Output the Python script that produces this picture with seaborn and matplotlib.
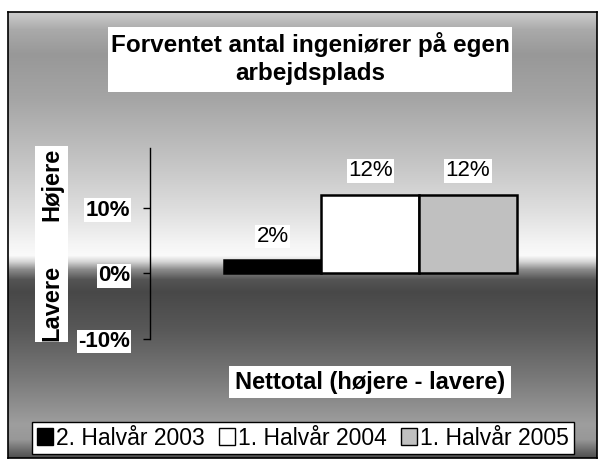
import numpy as np
import pandas as pd
import matplotlib.pyplot as plt
from matplotlib.patches import Rectangle, Patch
import seaborn as sns

# data
periods = ['2. Halvår 2003', '1. Halvår 2004', '1. Halvår 2005']
values = [2, 12, 12]
value_labels = ['2%', '12%', '12%']
category = 'Nettotal (højere - lavere)'
bar_colors = ['#000000', '#ffffff', '#c0c0c0']
yticks = [-10, 0, 10]
yticklabels = ['-10%', '0%', '10%']

sns.set_theme(style='white')
plt.rcParams['font.family'] = ['Liberation Sans', 'DejaVu Sans']
plt.rcParams['text.color'] = 'black'
plt.rcParams['ytick.color'] = 'black'
plt.rcParams['ytick.labelcolor'] = 'black'

W, H = 605, 465
fig = plt.figure(figsize=(W / 100, H / 100), dpi=100)
fig.patch.set_facecolor('white')


def fx(px):
    return px / W


def fy(py):
    return 1 - py / H


def white_box(x0, y0, x1, y1):
    fig.patches.append(Rectangle((fx(x0), fy(y1)), fx(x1) - fx(x0), fy(y0) - fy(y1),
                                 transform=fig.transFigure, facecolor='white',
                                 edgecolor='none', zorder=2))


# grey gradient background inside black frame
bg = fig.add_axes([fx(8), fy(458), fx(597) - fx(8), fy(12) - fy(458)], zorder=-5)
stop_y = [12, 18, 30, 55, 100, 160, 210, 245, 256, 262, 270, 280, 292, 330, 380, 425, 440, 450, 458]
stop_v = [205, 195, 170, 152, 165, 195, 222, 245, 250, 215, 140, 85, 72, 88, 122, 158, 152, 110, 80]
g = np.interp(np.arange(12, 459), stop_y, stop_v) / 255
bg.imshow(np.repeat(g[:, None, None], 3, axis=2), aspect='auto', extent=[0, 1, 0, 1],
          interpolation='bilinear')
bg.set_xticks([])
bg.set_yticks([])
for s in bg.spines.values():
    s.set_visible(True)
    s.set_color('black')
    s.set_linewidth(1.2)

# plot area
ax = fig.add_axes([fx(149.5), fy(339), fx(591) - fx(149.5), fy(148) - fy(339)])
ax.patch.set_alpha(0)
df = pd.DataFrame({'cat': [category] * 3, 'period': periods, 'value': values})
sns.barplot(data=df, x='cat', y='value', hue='period', palette=bar_colors, saturation=1,
            width=0.664, gap=0, edgecolor='black', linewidth=1.8, legend=False, ax=ax)

ax.set_xlim(-0.5, 0.5)
ax.set_ylim(-10, 19.1)
ax.set_xticks([])
ax.set_xlabel('')
ax.set_ylabel('')
ax.set_yticks(yticks)
ax.set_yticklabels(yticklabels, fontsize=16, fontweight='bold', color='black')
ax.tick_params(axis='y', left=True, length=5, width=1, color='black', pad=9)
for lbl in ax.get_yticklabels():
    lbl.set_bbox(dict(facecolor='white', edgecolor='none', pad=1))
for side in ['top', 'right', 'bottom']:
    ax.spines[side].set_visible(False)
ax.spines['left'].set_color('black')
ax.spines['left'].set_linewidth(1)

# value labels above bars
for bar, lab in zip(ax.patches, value_labels):
    ax.annotate(lab, (bar.get_x() + bar.get_width() / 2, bar.get_height()),
                xytext=(0, 17), textcoords='offset points', ha='center', va='center',
                fontsize=16, color='black',
                bbox=dict(facecolor='white', edgecolor='none', pad=1))

# title
white_box(108, 27, 512, 92)
fig.text(fx(310), fy(52), 'Forventet antal ingeniører på egen', ha='center', va='baseline',
         fontsize=17.5, fontweight='bold', zorder=3)
fig.text(fx(310), fy(80), 'arbejdsplads', ha='center', va='baseline',
         fontsize=17.5, fontweight='bold', zorder=3)

# x label
white_box(229, 366, 511, 398)
fig.text(fx(370), fy(389), category, ha='center', va='baseline',
         fontsize=17, fontweight='bold', zorder=3)

# y label
white_box(35, 146, 68, 342)
fig.text(fx(52), fy(184), 'Højere', rotation=90, ha='center', va='center',
         fontsize=17, fontweight='bold', zorder=3)
fig.text(fx(52), fy(303), 'Lavere', rotation=90, ha='center', va='center',
         fontsize=17, fontweight='bold', zorder=3)

# legend
handles = [Patch(facecolor=c, edgecolor='black', linewidth=1) for c in bar_colors]
leg = fig.legend(handles, periods, loc='center', ncol=3,
                 bbox_to_anchor=(fx(303), fy(438)),
                 prop=dict(family=['Liberation Sans', 'DejaVu Sans'], size=16.5),
                 frameon=True, fancybox=False, edgecolor='black', framealpha=1,
                 handlelength=0.7, handleheight=0.7, handletextpad=0.15,
                 columnspacing=0.6, borderpad=0.2, borderaxespad=0)
leg.get_frame().set_linewidth(1)

fig.savefig('out.png', dpi=100)
